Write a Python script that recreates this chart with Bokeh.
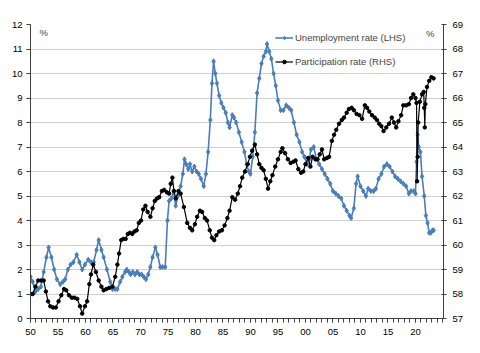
from bokeh.plotting import figure
from bokeh.models import (Range1d, LinearAxis, FixedTicker, Legend, LegendItem, Label)
from bokeh.embed import file_html
from bokeh.resources import INLINE

# ---------------- data ----------------
unemp_year = [1950.0, 1950.4, 1950.9, 1951.4, 1951.9, 1952.4, 1952.9, 1953.3, 1953.8, 1954.3,
              1954.8, 1955.4, 1955.9, 1956.3, 1956.8, 1957.3, 1957.8, 1958.4, 1958.9, 1959.4,
              1959.9, 1960.5, 1961.0, 1961.5, 1962.0, 1962.4, 1962.9, 1963.3, 1963.9, 1964.5,
              1964.9, 1965.4, 1965.8, 1966.3, 1966.7, 1967.2, 1967.5, 1967.9, 1968.2, 1968.6,
              1969.0, 1969.4, 1969.8, 1970.2, 1970.6, 1971.0, 1971.4, 1971.8, 1972.2, 1972.7,
              1973.1, 1973.6, 1974.0, 1974.5, 1974.9, 1975.2, 1975.6, 1976.0, 1976.4, 1976.8,
              1977.3, 1977.7, 1978.0, 1978.3, 1978.7, 1979.0, 1979.4, 1979.8, 1980.2, 1980.6,
              1981.0, 1981.5, 1981.9, 1982.3, 1982.7, 1983.0, 1983.3, 1983.6, 1983.9, 1984.3,
              1984.7, 1985.1, 1985.5, 1985.9, 1986.2, 1986.7, 1987.0, 1987.4, 1987.9, 1988.4,
              1988.9, 1989.3, 1989.7, 1990.0, 1990.4, 1990.8, 1991.2, 1991.6, 1992.0, 1992.4,
              1992.8, 1993.0, 1993.4, 1993.8, 1994.2, 1994.6, 1995.0, 1995.5, 1996.0, 1996.5,
              1997.0, 1997.4, 1997.9, 1998.4, 1998.9, 1999.4, 1999.8, 2000.3, 2000.7, 2001.0,
              2001.5, 2002.0, 2002.5, 2003.0, 2003.5, 2004.0, 2004.5, 2005.0, 2005.5, 2006.0,
              2006.5, 2007.0, 2007.5, 2008.0, 2008.3, 2008.8, 2009.2, 2009.5, 2010.0, 2010.5,
              2011.0, 2011.4, 2011.9, 2012.4, 2012.8, 2013.3, 2013.8, 2014.3, 2014.8, 2015.3,
              2015.8, 2016.3, 2016.8, 2017.3, 2017.8, 2018.3, 2018.8, 2019.2, 2019.7, 2020.0,
              2020.2, 2020.4, 2020.6, 2020.9, 2021.2, 2021.6, 2021.9, 2022.2, 2022.5, 2022.8,
              2023.1, 2023.3]
unemp_rate = [1.7, 1.5, 1.1, 1.2, 1.3, 1.9, 2.5, 2.9, 2.5, 2.0,
              1.6, 1.4, 1.5, 1.6, 2.0, 2.2, 2.3, 2.6, 2.3, 2.0,
              2.2, 2.4, 2.3, 2.3, 2.8, 3.2, 2.8, 2.5, 2.0, 1.5,
              1.2, 1.2, 1.2, 1.5, 1.7, 1.9, 2.0, 1.9, 1.8, 1.9,
              1.8, 1.9, 1.8, 1.8, 1.7, 1.6, 1.8, 2.1, 2.5, 2.9,
              2.6, 2.1, 2.1, 2.1, 4.0, 4.8, 4.9, 5.2, 4.6, 5.0,
              5.4, 5.9, 6.5, 6.3, 6.1, 6.3, 6.0, 6.2, 6.0, 5.9,
              5.7, 5.4, 5.9, 6.8, 8.1, 9.6, 10.5, 10.0, 9.6, 9.1,
              8.8, 8.6, 8.4, 8.0, 7.8, 8.3, 8.2, 8.0, 7.6, 7.2,
              6.8, 6.3, 6.0, 5.9, 6.6, 7.6, 9.2, 9.8, 10.4, 10.7,
              10.9, 11.2, 10.9, 10.6, 10.0, 9.5, 8.9, 8.5, 8.5, 8.7,
              8.6, 8.5, 8.0, 7.5, 7.2, 6.8, 6.6, 6.3, 6.5, 6.9,
              7.0, 6.5, 6.3, 6.1, 5.9, 5.7, 5.5, 5.2, 5.1, 5.0,
              4.9, 4.6, 4.4, 4.2, 4.1, 4.5, 5.5, 5.8, 5.4, 5.2,
              5.0, 5.3, 5.2, 5.2, 5.3, 5.7, 5.9, 6.2, 6.3, 6.2,
              6.0, 5.8, 5.7, 5.6, 5.5, 5.4, 5.1, 5.2, 5.2, 5.1,
              6.4, 7.5, 7.0, 6.8, 5.8, 5.0, 4.2, 3.9, 3.5, 3.5,
              3.6, 3.6]

part_year = [1950.0, 1950.4, 1950.9, 1951.4, 1951.9, 1952.4, 1952.8, 1953.2, 1953.6, 1954.1,
             1954.6, 1955.1, 1955.6, 1956.1, 1956.5, 1957.0, 1957.5, 1958.0, 1958.5, 1959.0,
             1959.4, 1959.9, 1960.3, 1960.7, 1961.0, 1961.4, 1961.9, 1962.4, 1962.9, 1963.3,
             1963.8, 1964.3, 1964.9, 1965.4, 1965.8, 1966.1, 1966.5, 1966.9, 1967.3, 1967.7,
             1968.1, 1968.5, 1968.9, 1969.3, 1969.7, 1970.1, 1970.5, 1970.9, 1971.3, 1971.8,
             1972.2, 1972.6, 1973.0, 1973.4, 1973.9, 1974.3, 1974.8, 1975.2, 1975.5, 1975.8,
             1976.1, 1976.4, 1976.9, 1977.3, 1977.9, 1978.5, 1979.0, 1979.4, 1979.9, 1980.3,
             1980.8, 1981.2, 1981.7, 1982.1, 1982.6, 1983.0, 1983.4, 1983.8, 1984.3, 1984.8,
             1985.3, 1985.8, 1986.2, 1986.7, 1987.2, 1987.7, 1988.1, 1988.5, 1989.0, 1989.5,
             1989.9, 1990.3, 1990.8, 1991.2, 1991.6, 1992.0, 1992.4, 1992.8, 1993.2, 1993.6,
             1994.0, 1994.5, 1995.0, 1995.5, 1995.8, 1996.3, 1996.8, 1997.3, 1997.8, 1998.2,
             1998.7, 1999.2, 1999.6, 2000.0, 2000.5, 2000.9, 2001.3, 2001.8, 2002.2, 2002.6,
             2003.0, 2003.4, 2003.9, 2004.3, 2004.8, 2005.2, 2005.6, 2006.1, 2006.6, 2007.0,
             2007.5, 2007.9, 2008.4, 2008.8, 2009.3, 2009.8, 2010.3, 2010.8, 2011.2, 2011.6,
             2012.1, 2012.6, 2013.0, 2013.4, 2013.8, 2014.2, 2014.7, 2015.2, 2015.7, 2016.1,
             2016.5, 2016.9, 2017.4, 2017.8, 2018.3, 2018.8, 2019.2, 2019.6, 2020.0, 2020.2,
             2020.3, 2020.4, 2020.5, 2020.8, 2021.2, 2021.5, 2021.6, 2021.7, 2021.8, 2022.1,
             2022.5, 2022.9, 2023.3]
part_rate = [58.0, 58.0, 58.3, 58.55, 58.55, 58.55, 58.1, 57.7, 57.5, 57.45,
             57.45, 57.7, 57.95, 58.2, 58.15, 57.95, 57.85, 57.85, 57.8, 57.5,
             57.2, 57.5, 57.7, 58.4, 58.8, 59.2, 58.9, 58.55, 58.3, 58.15,
             58.2, 58.25, 58.3, 58.7, 59.2, 59.65, 60.2, 60.25, 60.25, 60.45,
             60.5, 60.45, 60.55, 60.6, 60.9, 61.0, 61.45, 61.6, 61.35, 61.15,
             61.5, 61.8, 61.9, 61.95, 62.2, 62.25, 62.15, 62.1, 62.5, 62.75,
             62.2, 61.9, 62.2, 62.1, 61.55, 60.9, 60.7, 60.6, 60.85, 61.15,
             61.4, 61.35, 61.1, 61.0, 60.6, 60.3, 60.2, 60.4, 60.55, 60.6,
             60.8, 61.1, 61.4, 61.95, 61.85, 62.1, 62.4, 62.75, 63.0, 63.3,
             63.6, 63.85, 64.1, 63.7, 63.3, 63.15, 63.05, 62.7, 62.3, 62.6,
             62.85, 63.2, 63.5, 63.8, 63.95, 63.75, 63.5, 63.35, 63.4, 63.45,
             63.1, 62.95, 63.0, 63.3, 63.55, 63.2, 63.6, 63.5, 63.5, 63.7,
             63.9, 63.5, 63.55, 63.6, 64.25, 64.5, 64.7, 64.95, 65.1, 65.2,
             65.4, 65.55, 65.6, 65.5, 65.35, 65.3, 65.15, 65.7, 65.6, 65.45,
             65.3, 65.2, 65.1, 64.95, 64.85, 64.65, 64.8, 64.95, 65.2, 65.0,
             64.8, 65.05, 65.3, 65.7, 65.7, 65.75, 66.0, 66.15, 66.0, 65.8,
             62.6, 63.6, 65.0, 65.85, 66.15, 66.25, 65.6, 64.8, 65.75, 66.45,
             66.7, 66.85, 66.8]

major_ticks = [1950, 1955, 1960, 1965, 1970, 1975, 1980, 1985, 1990, 1995,
               2000, 2005, 2010, 2015, 2020]
tick_labels = ["50", "55", "60", "65", "70", "75", "80", "85", "90", "95",
               "00", "05", "10", "15", "20"]
minor_ticks = list(range(1950, 2026))

FONT = "Liberation Sans"
FS = "9.5px"
BLUE = "#4a7ebb"

p = figure(width=480, height=353, output_backend="svg", toolbar_location=None,
           x_range=Range1d(1950, 2025.1), y_range=Range1d(0, 12),
           min_border_left=30, min_border_right=37, min_border_top=24, min_border_bottom=35)
p.outline_line_color = None
p.background_fill_color = "white"
p.border_fill_color = "white"
p.extra_y_ranges = {"rhs": Range1d(57, 69)}

# grid
p.xgrid.visible = False
p.ygrid.grid_line_color = "#d0d0d0"
p.ygrid.grid_line_width = 1
p.ygrid.ticker = FixedTicker(ticks=list(range(0, 13)))

# x axis
xa = p.xaxis[0]
xa.ticker = FixedTicker(ticks=major_ticks, minor_ticks=minor_ticks)
xa.major_label_overrides = {t: l for t, l in zip(major_ticks, tick_labels)}
xa.major_tick_in = 0
xa.major_tick_out = 4
xa.minor_tick_in = 0
xa.minor_tick_out = 4
xa.major_label_standoff = 6

# left axis
ya = p.yaxis[0]
ya.ticker = FixedTicker(ticks=list(range(0, 13)))
ya.major_tick_in = 0
ya.major_tick_out = 4
ya.major_label_standoff = 4

# right axis
ra = LinearAxis(y_range_name="rhs", ticker=FixedTicker(ticks=list(range(57, 70))))
ra.major_tick_in = 2
ra.major_tick_out = 3
ra.major_label_standoff = 6
p.add_layout(ra, "right")

for ax in [xa, ya, ra]:
    ax.axis_line_color = "#404040"
    ax.major_tick_line_color = "#404040"
    ax.minor_tick_line_color = "#404040" if ax is xa else None
    ax.major_label_text_font = FONT
    ax.major_label_text_font_size = FS
    ax.major_label_text_color = "black"

# series
ul = p.line(unemp_year, unemp_rate, line_color=BLUE, line_width=1.6)
us = p.scatter(unemp_year, unemp_rate, marker="diamond", size=5, fill_color=BLUE,
               line_color=BLUE)
pl = p.line(part_year, part_rate, line_color="black", line_width=1.2, y_range_name="rhs")
ps = p.scatter(part_year, part_rate, marker="circle", size=3.5, fill_color="black",
               line_color="black", y_range_name="rhs")

legend = Legend(items=[LegendItem(label="Unemployment rate (LHS)", renderers=[ul, us]),
                       LegendItem(label="Participation rate (RHS)", renderers=[pl, ps])],
                location=(245, 250))
legend.border_line_color = None
legend.background_fill_alpha = 0
legend.label_text_font = FONT
legend.label_text_font_size = FS
legend.glyph_width = 18
legend.glyph_height = 9
legend.label_height = 14
legend.spacing = 10
legend.padding = 0
legend.margin = 0
legend.label_standoff = 2
p.add_layout(legend)

p.add_layout(Label(x=1952.4, y=11.67, text="%", text_font=FONT, text_font_size=FS,
                   text_align="center", text_baseline="middle"))
p.add_layout(Label(x=2022.7, y=11.63, text="%", text_font=FONT, text_font_size=FS,
                   text_align="center", text_baseline="middle"))

open("out.html", "w").write(file_html(p, INLINE))
